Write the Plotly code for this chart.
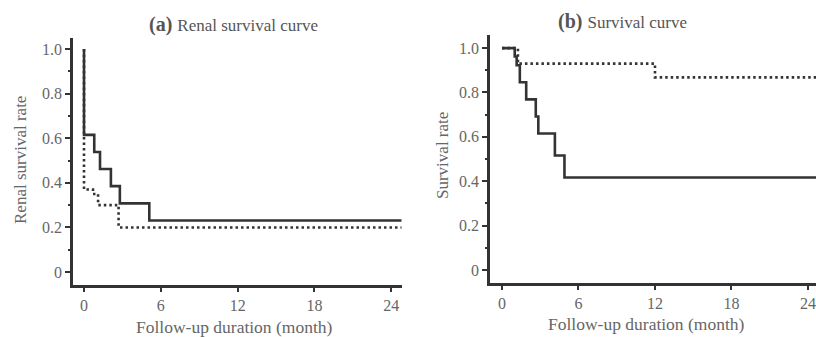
import plotly.graph_objects as go

# ---- data ----
# Panel (a) Renal survival
a_solid_t = [0, 0, 0.8, 1.25, 2.1, 2.8, 5.1, 24.8]
a_solid_s = [1.0, 0.615, 0.538, 0.462, 0.385, 0.308, 0.231, 0.231]
a_dot_t = [0, 0, 0.7, 1.1, 2.7, 24.8]
a_dot_s = [1.0, 0.37, 0.35, 0.30, 0.20, 0.20]

# Panel (b) Survival
b_solid_t = [0, 1.0, 1.15, 1.4, 1.9, 2.65, 2.85, 4.15, 4.9, 24.7]
b_solid_s = [1.0, 0.962, 0.923, 0.846, 0.769, 0.692, 0.615, 0.516, 0.417, 0.417]
b_dot_t = [0, 1.25, 12.0, 24.7]
b_dot_s = [1.0, 0.93, 0.868, 0.868]

x_ticks = [0, 6, 12, 18, 24]
y_ticks = [0, 0.2, 0.4, 0.6, 0.8, 1.0]
y_tick_text = ["0", "0.2", "0.4", "0.6", "0.8", "1.0"]

LINE = "#333333"
TXT = "#666666"
FONT = "Liberation Serif, Times New Roman, serif"

fig = go.Figure()

def add(t, s, xa, ya, dotted):
    fig.add_trace(go.Scatter(
        x=t, y=s, mode="lines", line_shape="hv", xaxis=xa, yaxis=ya,
        line=dict(color=LINE, width=2.6,
                  dash="2.5px,3px" if dotted else "solid"),
        showlegend=False, hoverinfo="skip"))

add(a_dot_t, a_dot_s, "x", "y", True)
add(a_solid_t, a_solid_s, "x", "y", False)
add(b_dot_t, b_dot_s, "x2", "y2", True)
add(b_solid_t, b_solid_s, "x2", "y2", False)

W, H = 816, 337
def dx(p0, p1):
    return [p0 / W, p1 / W]
def dy(top, bot):
    return [(H - bot) / H, (H - top) / H]

common_x = dict(
    tickmode="array", tickvals=x_ticks, ticktext=[str(v) for v in x_ticks],
    ticks="outside", ticklen=4, tickwidth=2, tickcolor=LINE,
    showline=True, linewidth=2.6, linecolor=LINE, showgrid=False, zeroline=False,
    tickfont=dict(family=FONT, size=16, color=TXT), automargin=False,
    ticklabeloverflow="allow",
)
common_y = dict(
    tickmode="array", tickvals=y_ticks, ticktext=y_tick_text,
    ticks="outside", ticklen=5, tickwidth=2, tickcolor=LINE,
    minor=dict(ticks="outside", ticklen=2, tickwidth=1.5, tickcolor=LINE, dtick=0.1, tick0=0),
    showline=True, linewidth=2.6, linecolor=LINE, showgrid=False, zeroline=False,
    tickfont=dict(family=FONT, size=16, color=TXT), automargin=False,
    ticklabeloverflow="allow",
)

def ann(text, x, y, size, angle=0, color=TXT):
    return dict(text=text, x=x / W, y=1 - y / H, xref="paper", yref="paper",
                showarrow=False, textangle=angle,
                font=dict(family=FONT, size=size, color=color),
                xanchor="center", yanchor="middle")

fig.update_layout(
    width=W, height=H, margin=dict(l=0, r=0, t=0, b=0, autoexpand=False),
    paper_bgcolor="white", plot_bgcolor="white",
    xaxis=dict(domain=dx(73, 402), range=[-0.86, 24.84], anchor="y", **common_x),
    yaxis=dict(domain=dy(38, 285), range=[-0.058, 1.049], anchor="x", **common_y),
    xaxis2=dict(domain=dx(490, 816), range=[-0.94, 24.63], anchor="y2", **common_x),
    yaxis2=dict(domain=dy(35, 283), range=[-0.0586, 1.059], anchor="x2", **common_y),
    annotations=[
        ann("<b>(a)</b> <span style='font-size:17px'>Renal survival curve</span>", 234, 24, 20, color="#555555"),
        ann("<b>(b)</b> <span style='font-size:17px'>Survival curve</span>", 622, 21, 20, color="#555555"),
        ann("Follow-up duration (month)", 235, 327, 17.5),
        ann("Follow-up duration (month)", 646, 324, 17.5),
        ann("Renal survival rate", 20, 160, 17, angle=-90),
        ann("Survival rate", 442, 155, 17, angle=-90),
    ],
)

fig.write_html("out.html", config={"displayModeBar": False},
               post_script="document.body.style.margin='0';document.body.style.overflow='hidden';")
